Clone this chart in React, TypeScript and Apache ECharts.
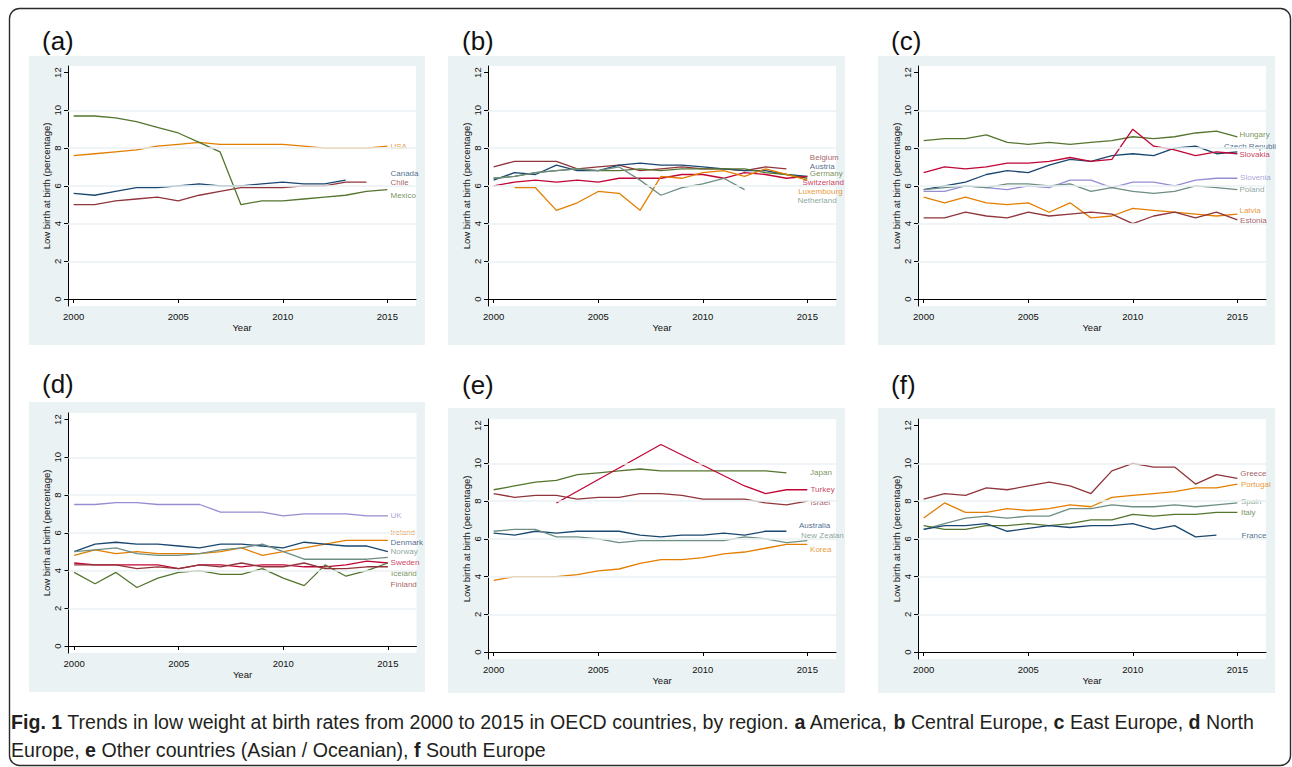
import React, { useEffect, useRef } from "react";
import * as echarts from "echarts";

// ---------- data ----------
const years = [2000, 2001, 2002, 2003, 2004, 2005, 2006, 2007, 2008, 2009, 2010, 2011, 2012, 2013, 2014, 2015];
const xTicks = [2000, 2005, 2010, 2015];
const yTicks = [0, 2, 4, 6, 8, 10, 12];
const yGridValues = [2, 4, 6, 8, 10];

// (a) America
const aNames = ["USA", "Canada", "Chile", "Mexico"];
const aUSA = [7.6, 7.7, 7.8, 7.9, 8.1, 8.2, 8.3, 8.2, 8.2, 8.2, 8.2, 8.1, 8.0, 8.0, 8.0, 8.1];
const aCanada = [5.6, 5.5, 5.7, 5.9, 5.9, 6.0, 6.1, 6.0, 6.0, 6.1, 6.2, 6.1, 6.1, 6.3, null, null];
const aChile = [5.0, 5.0, 5.2, 5.3, 5.4, 5.2, 5.5, 5.7, 5.9, 5.9, 5.9, 6.0, 6.0, 6.2, 6.2, null];
const aMexico = [9.7, 9.7, 9.6, 9.4, 9.1, 8.8, 8.3, 7.8, 5.0, 5.2, 5.2, 5.3, 5.4, 5.5, 5.7, 5.8];
const aLabelX = [2015.15, 2015.15, 2015.15, 2015.15];
const aLabelY = [8.1, 6.67, 6.2, 5.5];

// (b) Central Europe
const bNames = ["Belgium", "Austria", "Germany", "Switzerland", "Luxembourg", "Netherland"];
const bBelgium = [7.0, 7.3, 7.3, 7.3, 6.9, 7.0, 7.1, 6.8, 6.9, 7.0, 6.9, 6.9, 6.8, 7.0, 6.9, null];
const bAustria = [6.3, 6.7, 6.6, 7.1, 6.8, 6.8, 7.1, 7.2, 7.1, 7.1, 7.0, 6.9, 6.8, 6.8, 6.6, 6.5];
const bGermany = [6.4, 6.5, 6.7, 6.8, 6.9, 6.8, 6.8, 6.9, 6.8, 6.9, 6.9, 6.9, 6.9, 6.7, 6.6, 6.4];
const bSwitzerland = [6.0, 6.2, 6.3, 6.2, 6.3, 6.2, 6.4, 6.4, 6.4, 6.6, 6.6, 6.4, 6.7, 6.6, 6.4, 6.5];
const bLuxembourg = [null, 5.9, 5.9, 4.7, 5.1, 5.7, 5.6, 4.7, 6.5, 6.4, 6.7, 6.8, 6.5, 6.9, 6.6, 6.3];
const bNetherland = [6.4, 6.5, 6.7, 6.8, 6.9, 6.8, 7.0, 6.3, 5.5, 5.9, 6.1, 6.4, 5.8, null, null, null];
const bLabelX = [2015.12, 2015.12, 2015.12, 2014.77, 2014.56, 2014.53];
const bLabelY = [7.5, 7.04, 6.63, 6.19, 5.71, 5.24];

// (c) East Europe
const cNames = ["Hungary", "Czech Republic", "Slovakia", "Slovenia", "Poland", "Latvia", "Estonia"];
const cHungary = [8.4, 8.5, 8.5, 8.7, 8.3, 8.2, 8.3, 8.2, 8.3, 8.4, 8.6, 8.5, 8.6, 8.8, 8.9, 8.6];
const cCzech = [5.8, 6.0, 6.2, 6.6, 6.8, 6.7, 7.1, 7.4, 7.3, 7.6, 7.7, 7.6, 8.0, 8.1, 7.7, 7.8];
const cSlovakia = [6.7, 7.0, 6.9, 7.0, 7.2, 7.2, 7.3, 7.5, 7.3, 7.4, 9.0, 8.1, 7.9, 7.6, 7.8, 7.7];
const cSlovenia = [5.7, 5.7, 6.0, 5.9, 5.8, 6.0, 5.9, 6.3, 6.3, 5.9, 6.2, 6.2, 6.0, 6.3, 6.4, 6.4];
const cPoland = [5.8, 5.9, 6.0, 5.9, 6.1, 6.1, 6.0, 6.1, 5.7, 5.9, 5.7, 5.6, 5.7, 6.0, 5.9, 5.8];
const cLatvia = [5.4, 5.1, 5.4, 5.1, 5.0, 5.1, 4.6, 5.1, 4.3, 4.4, 4.8, 4.7, 4.6, 4.5, 4.4, 4.5];
const cEstonia = [4.3, 4.3, 4.6, 4.4, 4.3, 4.6, 4.4, 4.5, 4.6, 4.5, 4.0, 4.4, 4.6, 4.3, 4.6, 4.2];
const cLabelX = [2015.1, 2014.36, 2015.1, 2015.13, 2015.1, 2015.1, 2015.13];
const cLabelY = [8.73, 8.08, 7.65, 6.42, 5.79, 4.69, 4.16];

// (d) North Europe
const dNames = ["UK", "Ireland", "Denmark", "Norway", "Sweden", "Iceland", "Finland"];
const dUK = [7.5, 7.5, 7.6, 7.6, 7.5, 7.5, 7.5, 7.1, 7.1, 7.1, 6.9, 7.0, 7.0, 7.0, 6.9, 6.9];
const dIreland = [4.8, 5.1, 4.9, 5.0, 4.9, 4.9, 4.9, 5.0, 5.2, 4.8, 5.0, 5.2, 5.4, 5.6, 5.6, 5.6];
const dDenmark = [5.0, 5.4, 5.5, 5.4, 5.4, 5.3, 5.2, 5.4, 5.4, 5.3, 5.2, 5.5, 5.4, 5.3, 5.3, 5.0];
const dNorway = [5.0, 5.1, 5.2, 4.9, 4.8, 4.8, 4.9, 5.1, 5.2, 5.4, 5.0, 4.6, 4.6, 4.6, 4.6, 4.7];
const dSweden = [4.4, 4.3, 4.3, 4.3, 4.3, 4.1, 4.3, 4.3, 4.2, 4.3, 4.3, 4.2, 4.2, 4.3, 4.5, 4.4];
const dIceland = [3.9, 3.3, 3.9, 3.1, 3.6, 3.9, 4.0, 3.8, 3.8, 4.1, 3.6, 3.2, 4.3, 3.7, 4.0, 4.4];
const dFinland = [4.3, 4.3, 4.3, 4.1, 4.2, 4.1, 4.3, 4.2, 4.4, 4.2, 4.2, 4.4, 4.1, 4.1, 4.2, 4.2];
const dLabelX = [2015.13, 2015.13, 2015.13, 2015.13, 2015.13, 2015.15, 2015.13];
const dLabelY = [6.92, 6.04, 5.5, 4.99, 4.44, 3.86, 3.26];

// (e) Other countries (Asian / Oceanian)
const eNames = ["Japan", "Turkey", "Israel", "Australia", "New Zealand", "Korea"];
const eJapan = [8.6, 8.8, 9.0, 9.1, 9.4, 9.5, 9.6, 9.7, 9.6, 9.6, 9.6, 9.6, 9.6, 9.6, 9.5, null];
const eTurkey = [null, null, null, 7.9, null, null, null, null, 11.0, null, null, null, 8.8, 8.4, 8.6, 8.6];
const eIsrael = [8.4, 8.2, 8.3, 8.3, 8.1, 8.2, 8.2, 8.4, 8.4, 8.3, 8.1, 8.1, 8.1, 7.9, 7.8, 8.0];
const eAustralia = [6.3, 6.2, 6.4, 6.3, 6.4, 6.4, 6.4, 6.2, 6.1, 6.2, 6.2, 6.3, 6.2, 6.4, 6.4, null];
const eNewZealand = [6.4, 6.5, 6.5, 6.1, 6.1, 6.0, 5.8, 5.9, 5.9, 5.9, 5.9, 5.9, 6.1, 6.0, 5.8, 5.9];
const eKorea = [3.8, 4.0, 4.0, 4.0, 4.1, 4.3, 4.4, 4.7, 4.9, 4.9, 5.0, 5.2, 5.3, 5.5, 5.7, 5.7];
const eLabelX = [2015.13, 2015.15, 2015.15, 2014.6, 2014.7, 2015.13];
const eLabelY = [9.5, 8.64, 7.93, 6.68, 6.15, 5.44];

// (f) South Europe
const fNames = ["Greece", "Portugal", "Spain", "Italy", "France"];
const fGreece = [8.1, 8.4, 8.3, 8.7, 8.6, 8.8, 9.0, 8.8, 8.4, 9.6, 10.0, 9.8, 9.8, 8.9, 9.4, 9.2];
const fPortugal = [7.1, 7.9, 7.4, 7.4, 7.6, 7.5, 7.6, 7.8, 7.7, 8.2, 8.3, 8.4, 8.5, 8.7, 8.7, 8.9];
const fSpain = [6.5, 6.8, 7.1, 7.2, 7.1, 7.2, 7.2, 7.6, 7.6, 7.8, 7.7, 7.7, 7.8, 7.7, 7.8, 7.9];
const fItaly = [6.7, 6.5, 6.5, 6.7, 6.7, 6.8, 6.7, 6.8, 7.0, 7.0, 7.3, 7.2, 7.3, 7.3, 7.4, 7.4];
const fFrance = [6.5, 6.7, 6.7, 6.8, 6.4, 6.55, 6.7, 6.6, 6.7, 6.7, 6.8, 6.5, 6.7, 6.1, 6.2, null];
const fLabelX = [2015.14, 2015.17, 2015.17, 2015.17, 2015.2];
const fLabelY = [9.45, 8.89, 7.97, 7.39, 6.17];

const captionLine1 = [
  ["b", "Fig. 1"],
  ["r", " Trends in low weight at birth rates from 2000 to 2015 in OECD countries, by region. "],
  ["b", "a"], ["r", " America, "], ["b", "b"], ["r", " Central Europe, "], ["b", "c"], ["r", " East Europe, "],
  ["b", "d"], ["r", " North"],
];
const captionLine2 = [
  ["r", "Europe, "], ["b", "e"], ["r", " Other countries (Asian / Oceanian), "], ["b", "f"], ["r", " South Europe"],
];

// ---------- styles ----------
const C = {
  navy: "#1a476f",
  maroon: "#90353b",
  green: "#55752f",
  orange: "#e37e00",
  teal: "#6e8e84",
  cranberry: "#c10534",
  lavender: "#938dd2",
};
const BG = "#eaf2f3";
const FONT = "'Liberation Sans', Arial, Helvetica, sans-serif";
const CAP_SIZE = 19.6;

type P = {
  letter: string; lx: number; ly: number;
  bg: [number, number, number, number];
  left: number; top: number;
  names: string[]; values: (number | null)[][]; colors: string[];
  labelX: number[]; labelY: number[]; labelWidth?: (number | undefined)[];
};

const panels: P[] = [
  { letter: "(a)", lx: 42, ly: 41, bg: [29, 56, 396, 289], left: 68, top: 66,
    names: aNames, values: [aUSA, aCanada, aChile, aMexico],
    colors: [C.orange, C.navy, C.maroon, C.green], labelX: aLabelX, labelY: aLabelY },
  { letter: "(b)", lx: 462, ly: 41, bg: [448, 56, 397, 289], left: 488, top: 66,
    names: bNames, values: [bBelgium, bAustria, bGermany, bSwitzerland, bLuxembourg, bNetherland],
    colors: [C.maroon, C.navy, C.green, C.cranberry, C.orange, C.teal], labelX: bLabelX, labelY: bLabelY },
  { letter: "(c)", lx: 891, ly: 41, bg: [878, 56, 397, 289], left: 918, top: 66,
    names: cNames, values: [cHungary, cCzech, cSlovakia, cSlovenia, cPoland, cLatvia, cEstonia],
    colors: [C.green, C.navy, C.cranberry, C.lavender, C.teal, C.orange, C.maroon], labelX: cLabelX, labelY: cLabelY,
    labelWidth: [undefined, 55] },
  { letter: "(d)", lx: 42, ly: 384, bg: [29, 402, 396, 290], left: 68.5, top: 413,
    names: dNames, values: [dUK, dIreland, dDenmark, dNorway, dSweden, dIceland, dFinland],
    colors: [C.lavender, C.orange, C.navy, C.teal, C.cranberry, C.green, C.maroon], labelX: dLabelX, labelY: dLabelY },
  { letter: "(e)", lx: 462, ly: 385, bg: [448, 408, 397, 285], left: 488, top: 419,
    names: eNames, values: [eJapan, eTurkey, eIsrael, eAustralia, eNewZealand, eKorea],
    colors: [C.green, C.cranberry, C.maroon, C.navy, C.teal, C.orange], labelX: eLabelX, labelY: eLabelY,
    labelWidth: [undefined, undefined, undefined, undefined, 48] },
  { letter: "(f)", lx: 891, ly: 385, bg: [878, 408, 397, 285], left: 918, top: 419,
    names: fNames, values: [fGreece, fPortugal, fSpain, fItaly, fFrance],
    colors: [C.maroon, C.orange, C.teal, C.green, C.navy], labelX: fLabelX, labelY: fLabelY },
];

const GRID_W = 348;
const GRID_H = 240;
const X_MIN = 1999.73, X_MAX = 2016.37;
const Y_MIN = -0.37, Y_MAX = 12.35;

function buildOption() {
  const grid: any[] = [];
  const xAxis: any[] = [];
  const yAxis: any[] = [];
  const series: any[] = [];
  const graphic: any[] = [];

  graphic.push({
    type: "rect", z: -20,
    shape: { x: 9.5, y: 8.5, width: 1281, height: 757, r: 10 },
    style: { fill: "#fff", stroke: "#2b2b2b", lineWidth: 1.4 },
  });

  panels.forEach((p, i) => {
    graphic.push({
      type: "rect", z: -10,
      shape: { x: p.bg[0], y: p.bg[1], width: p.bg[2], height: p.bg[3] },
      style: { fill: BG },
    });
    graphic.push({
      type: "text", z: 10, x: p.lx, y: p.ly,
      style: { text: p.letter, fontSize: 26, fontFamily: FONT, fill: "#111", textVerticalAlign: "middle" },
    });

    grid.push({ left: p.left, top: p.top, width: GRID_W, height: GRID_H, show: true, backgroundColor: "#fff", borderWidth: 0 });
    xAxis.push({
      type: "value", gridIndex: i, min: X_MIN, max: X_MAX,
      axisLine: { show: true, lineStyle: { color: "#000", width: 1 } },
      axisTick: { show: true, customValues: xTicks, length: 4, lineStyle: { color: "#000", width: 1 } },
      axisLabel: {
        customValues: xTicks, fontSize: 9.5, margin: 5, color: "#111", fontFamily: FONT,
        formatter: (v: number) => String(Math.round(v)),
      },
      splitLine: { show: false },
      name: "Year", nameLocation: "middle", nameGap: 16,
      nameTextStyle: { fontSize: 9.5, color: "#111", fontFamily: FONT },
    });
    yAxis.push({
      type: "value", gridIndex: i, min: Y_MIN, max: Y_MAX,
      axisLine: { show: true, lineStyle: { color: "#000", width: 1 } },
      axisTick: { show: true, customValues: yTicks, length: 4, lineStyle: { color: "#000", width: 1 } },
      axisLabel: {
        customValues: yTicks, rotate: 90, fontSize: 9.5, margin: 6, color: "#111", fontFamily: FONT,
        formatter: (v: number) => String(Math.round(v)),
      },
      splitLine: { show: false },
      name: "Low birth at birth (percentage)", nameLocation: "middle", nameGap: 16,
      nameTextStyle: { fontSize: 9.5, color: "#111", fontFamily: FONT },
    });

    // gridlines
    series.push({
      type: "line", xAxisIndex: i, yAxisIndex: i, z: 1, silent: true,
      data: [[2000, 0]], showSymbol: false, lineStyle: { opacity: 0, width: 0 },
      markLine: {
        silent: true, symbol: ["none", "none"], label: { show: false },
        lineStyle: { color: BG, width: 1.5, type: "solid" },
        data: yGridValues.map((v) => ({ yAxis: v })),
      },
    });

    p.names.forEach((name, k) => {
      const vals = p.values[k];
      const data: number[][] = [];
      years.forEach((yr, j) => {
        const v = vals[j];
        if (v !== null && v !== undefined) data.push([yr, v]);
      });
      series.push({
        type: "line", name, xAxisIndex: i, yAxisIndex: i, z: 3,
        data, showSymbol: false, symbol: "none", connectNulls: true,
        lineStyle: { color: p.colors[k], width: 1.3 }, itemStyle: { color: p.colors[k] },
      });
    });

    series.push({
      type: "scatter", xAxisIndex: i, yAxisIndex: i, z: 4, silent: true, symbolSize: 0,
      data: p.names.map((name, k) => {
        const w = p.labelWidth ? p.labelWidth[k] : undefined;
        const lab: any = { color: p.colors[k] };
        if (w) { lab.width = w; lab.overflow = "truncate"; lab.ellipsis = ""; }
        return { name, value: [p.labelX[k], p.labelY[k]], label: lab };
      }),
      label: { show: true, position: "right", distance: 0, formatter: "{b}", fontSize: 8, fontFamily: FONT },
    });
  });

  const rich = {
    b: { fontWeight: "bold", fontSize: CAP_SIZE, fontFamily: FONT, fill: "#231f20" },
    r: { fontSize: CAP_SIZE, fontFamily: FONT, fill: "#231f20" },
  };
  const toRich = (parts: string[][]) => parts.map(([k, t]) => `{${k}|${t}}`).join("");
  graphic.push({
    type: "text", z: 10, x: 11, y: 722,
    style: { text: toRich(captionLine1), rich, textVerticalAlign: "middle", fontSize: CAP_SIZE, fontFamily: FONT },
  });
  graphic.push({
    type: "text", z: 10, x: 11, y: 750,
    style: { text: toRich(captionLine2), rich, textVerticalAlign: "middle", fontSize: CAP_SIZE, fontFamily: FONT },
  });

  return { animation: false, backgroundColor: "#fff", grid, xAxis, yAxis, series, graphic };
}

export default function App() {
  const ref = useRef<HTMLDivElement>(null);
  useEffect(() => {
    if (!ref.current) return;
    const chart = echarts.init(ref.current, undefined, { renderer: "svg" });
    chart.setOption(buildOption() as any);
    return () => chart.dispose();
  }, []);
  return (
    <div
      ref={ref}
      style={{ position: "absolute", left: 0, top: 0, width: 1292, height: 767, background: "#fff" }}
    />
  );
}
